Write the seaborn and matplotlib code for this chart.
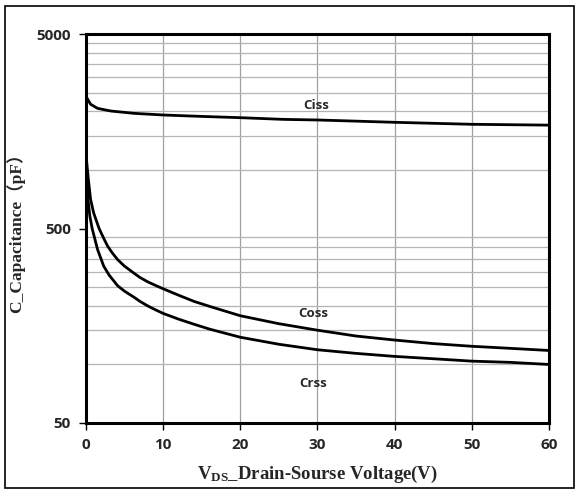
import seaborn as sns
import matplotlib.pyplot as plt
import pandas as pd
import numpy as np
from matplotlib.patches import Rectangle
from matplotlib.ticker import FixedLocator, NullFormatter

# values (pF vs V)
ciss_v = [0, 0.1, 0.6, 1.5, 3.2, 6.2, 10, 15, 20, 25.6, 30, 40, 50, 60]
ciss_c = [2400, 2352, 2176, 2074, 2010, 1955, 1917, 1885, 1857, 1820, 1807, 1758, 1717, 1700]

coss_v = [0, 0.3, 0.6, 1.0, 1.7, 2.3, 2.8, 3.4, 4.1, 5, 6.2, 7, 8, 9, 10, 12, 14, 16, 20, 25, 30, 35, 40, 45, 50, 55, 60]
coss_c = [1200, 900, 705, 600, 500, 445, 406, 375, 346, 320, 295, 280, 266, 255, 245, 227, 211, 199, 178, 162, 150, 140, 133.5, 128, 124, 121, 118]

crss_v = [0, 0.1, 0.26, 0.5, 0.8, 1.5, 2.3, 3, 4.1, 5, 6.2, 7, 8, 9, 10, 12, 14, 16, 20, 25, 30, 35, 40, 45, 50, 55, 60]
crss_c = [1200, 950, 705, 580, 500, 390, 320, 288, 254, 238, 222, 211, 200, 191, 183, 171, 161, 152, 138, 127, 119, 114, 110, 107, 104, 102.5, 100]

x_ticks = [0, 10, 20, 30, 40, 50, 60]
y_ticks = [50, 500, 5000]
y_grid = [100, 150, 200, 250, 300, 350, 400, 450,
          1000, 1500, 2000, 2500, 3000, 3500, 4000, 4500]

labels = ['Ciss', 'Coss', 'Crss']
label_pos = [(29.8, 2157), (29.5, 183), (29.5, 80)]

df = pd.concat([
    pd.DataFrame({'V': ciss_v, 'C': ciss_c, 'curve': 'Ciss'}),
    pd.DataFrame({'V': coss_v, 'C': coss_c, 'curve': 'Coss'}),
    pd.DataFrame({'V': crss_v, 'C': crss_c, 'curve': 'Crss'}),
])

sns.set_style('white')
plt.rcParams['mathtext.fontset'] = 'custom'
plt.rcParams['mathtext.rm'] = 'Liberation Serif:bold'
plt.rcParams['mathtext.it'] = 'Liberation Serif:bold'
plt.rcParams['mathtext.bf'] = 'Liberation Serif:bold'

fig = plt.figure(figsize=(5.79, 4.93), dpi=100)
ax = fig.add_axes([0.1485, 0.142, 0.7995, 0.789])

for name in labels:
    sub = df[df['curve'] == name]
    sns.lineplot(data=sub, x='V', y='C', ax=ax, color='black', linewidth=2.0,
                 estimator=None, sort=False, legend=False)

ax.set_yscale('log')
ax.set_xlim(0, 60)
ax.set_ylim(50, 5000)

ax.yaxis.set_major_locator(FixedLocator(y_ticks))
ax.set_yticklabels([str(t) for t in y_ticks])
ax.yaxis.set_minor_locator(FixedLocator(y_grid))
ax.yaxis.set_minor_formatter(NullFormatter())
ax.set_xticks(x_ticks)

ax.grid(True, which='major', axis='x', color='#a0a0a0', linewidth=0.9)
ax.grid(True, which='minor', axis='y', color='#b4b4b4', linewidth=0.9)
ax.tick_params(axis='y', which='minor', length=0)
ax.tick_params(which='major', direction='out', length=5, width=1,
               color='black', bottom=True, left=True, pad=6)
for lab in ax.get_xticklabels() + ax.get_yticklabels():
    lab.set_fontfamily('Open Sans')
    lab.set_fontweight('bold')
    lab.set_fontsize(11)

for s in ax.spines.values():
    s.set_color('black')
    s.set_linewidth(2.2)

for name, (lx, ly) in zip(labels, label_pos):
    ax.text(lx, ly, name, ha='center', va='center', fontsize=9.5,
            fontweight='bold', fontfamily='Open Sans')

ax.set_xlabel(r'V$_\mathregular{DS}$_Drain-Sourse Voltage(V)',
              fontfamily=['Liberation Serif'], fontweight='bold',
              fontsize=13.5, labelpad=8)
ax.set_ylabel('C_Capacitance（pF）',
              fontfamily=['Liberation Serif', 'Noto Sans CJK SC'],
              fontweight='bold', fontsize=12.5, labelpad=8)

fig.patches.append(Rectangle((0.009, 0.01), 0.982, 0.978, transform=fig.transFigure,
                             fill=False, edgecolor='black', linewidth=1.2))

fig.savefig('out.png', dpi=100)
